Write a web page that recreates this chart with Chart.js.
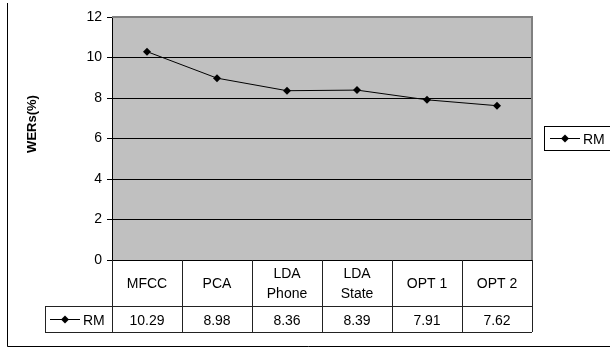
<!DOCTYPE html>
<html>
<head>
<meta charset="utf-8">
<script src="https://cdn.jsdelivr.net/npm/chart.js@4/dist/chart.umd.min.js"></script>
<style>
  html, body { margin: 0; padding: 0; background: #fff; }
  #wrap { width: 610px; height: 347px; position: relative; }
</style>
</head>
<body>
<div id="wrap"><canvas id="chart"></canvas></div>
<script>
// Chart data
const categories = ['MFCC', 'PCA', ['LDA', 'Phone'], ['LDA', 'State'], 'OPT 1', 'OPT 2'];
const seriesName = 'RM';
const rmValues = [10.29, 8.98, 8.36, 8.39, 7.91, 7.62];
const yMin = 0;
const yMax = 12;
const yStep = 2;
const yTitle = 'WERs(%)';

const FONT = "'Liberation Sans', Arial, sans-serif";

function diamond(ctx, x, y, r) {
    ctx.beginPath();
    ctx.moveTo(x, y - r);
    ctx.lineTo(x + r, y);
    ctx.lineTo(x, y + r);
    ctx.lineTo(x - r, y);
    ctx.closePath();
    ctx.fill();
}

function legendKey(ctx, x1, x2, y) {
    ctx.save();
    ctx.strokeStyle = '#000';
    ctx.fillStyle = '#000';
    ctx.lineWidth = 1;
    ctx.beginPath();
    ctx.moveTo(x1, y + 0.5);
    ctx.lineTo(x2, y + 0.5);
    ctx.stroke();
    diamond(ctx, (x1 + x2) / 2, y + 0.5, 4);
    ctx.restore();
}

// gray plot background and frame
const plotArea = {
    id: 'plotArea',
    beforeDraw(chart) {
        const { ctx, chartArea: a } = chart;
        ctx.save();
        ctx.fillStyle = '#c0c0c0';
        ctx.fillRect(a.left, a.top, a.right - a.left, a.bottom - a.top);
        ctx.restore();
    },
    afterDatasetsDraw(chart) {
        const { ctx, chartArea: a } = chart;
        ctx.save();
        ctx.strokeStyle = '#808080';
        ctx.lineWidth = 2;
        ctx.beginPath();
        ctx.moveTo(a.left, a.top);
        ctx.lineTo(a.right, a.top);
        ctx.lineTo(a.right, a.bottom);
        ctx.stroke();
        ctx.restore();
    }
};

// data table under the plot, legend box, axis title, outer frame
const extras = {
    id: 'extras',
    afterDraw(chart) {
        const { ctx, chartArea: a } = chart;
        const x = chart.scales.x;
        const n = categories.length;
        const colW = (a.right - a.left) / n;
        const headTop = a.bottom;
        const rowTop = headTop + 46;
        const rowBottom = rowTop + 26;
        const keyLeft = 45;

        ctx.save();
        ctx.strokeStyle = '#222';
        ctx.lineWidth = 1;
        ctx.beginPath();
        for (let i = 0; i <= n; i++) {
            const bx = Math.round(a.left + colW * i) + 0.5;
            ctx.moveTo(bx, headTop);
            ctx.lineTo(bx, rowBottom);
        }
        ctx.moveTo(keyLeft, rowTop + 0.5);
        ctx.lineTo(a.right, rowTop + 0.5);
        ctx.moveTo(keyLeft, rowBottom + 0.5);
        ctx.lineTo(a.right, rowBottom + 0.5);
        ctx.moveTo(keyLeft + 0.5, rowTop);
        ctx.lineTo(keyLeft + 0.5, rowBottom);
        ctx.stroke();

        ctx.fillStyle = '#000';
        ctx.font = '14px ' + FONT;
        ctx.textAlign = 'center';
        ctx.textBaseline = 'middle';
        const rowMid = (rowTop + rowBottom) / 2 + 2;
        categories.forEach((c, i) => {
            const cx = x.getPixelForValue(i);
            const lines = Array.isArray(c) ? c : [c];
            const lh = 20;
            const y0 = (headTop + rowTop) / 2 - (lines.length - 1) * lh / 2 + 1;
            lines.forEach((l, j) => ctx.fillText(l, cx, y0 + j * lh));
            ctx.fillText(rmValues[i].toFixed(2), cx, rowMid);
        });

        // key cell in table
        legendKey(ctx, 50, 80, Math.round((rowTop + rowBottom) / 2));
        ctx.textAlign = 'left';
        ctx.fillText(seriesName, 83, rowMid);

        // legend box
        ctx.strokeStyle = '#000';
        ctx.strokeRect(544.5, 126.5, 80, 24);
        legendKey(ctx, 550, 580, 138);
        ctx.fillText(seriesName, 583, 140);

        // y axis title
        ctx.save();
        ctx.translate(32, 124);
        ctx.rotate(-Math.PI / 2);
        ctx.textAlign = 'center';
        ctx.font = 'bold 13px ' + FONT;
        ctx.fillText(yTitle, 0, 0);
        ctx.restore();

        // outer frame
        ctx.beginPath();
        ctx.moveTo(7.5, 3);
        ctx.lineTo(7.5, 346.5);
        ctx.lineTo(610, 346.5);
        ctx.stroke();
        ctx.restore();
    }
};

new Chart(document.getElementById('chart'), {
    type: 'line',
    data: {
        labels: categories,
        datasets: [{
            label: seriesName,
            data: rmValues,
            borderColor: '#000',
            backgroundColor: '#000',
            borderWidth: 1,
            pointStyle: 'rectRot',
            pointRadius: 4,
            pointBorderWidth: 0,
            tension: 0,
            fill: false
        }]
    },
    options: {
        responsive: true,
        maintainAspectRatio: false,
        animation: false,
        layout: { padding: { top: 17, right: 78, bottom: 87, left: 0 } },
        plugins: {
            legend: { display: false },
            tooltip: { enabled: false }
        },
        scales: {
            x: {
                display: false,
                offset: true
            },
            y: {
                min: yMin,
                max: yMax,
                afterFit(scale) { scale.width = 112; },
                ticks: {
                    stepSize: yStep,
                    padding: 5,
                    color: '#000',
                    font: { family: FONT, size: 14 }
                },
                grid: {
                    color: ctx => ctx.tick && ctx.tick.value === yMax ? '#808080' : '#000',
                    tickColor: '#000',
                    tickLength: 5,
                    lineWidth: 1
                },
                border: { display: true, color: '#000', width: 1 }
            }
        }
    },
    plugins: [plotArea, extras]
});
</script>
</body>
</html>
